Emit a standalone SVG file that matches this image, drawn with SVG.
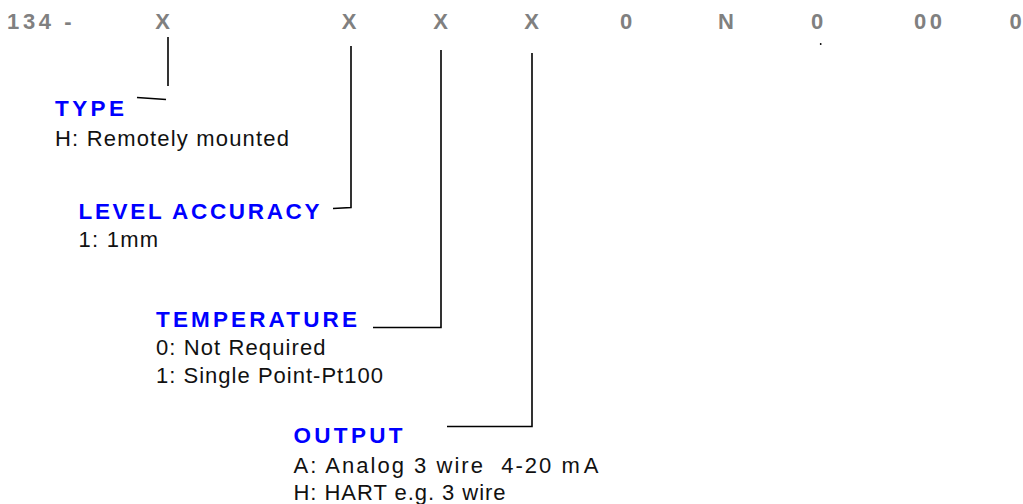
<svg xmlns="http://www.w3.org/2000/svg" width="1023" height="504" viewBox="0 0 1023 504">
<style>
.code{font-family:"Liberation Sans",Arial,sans-serif;font-weight:bold;font-size:22px;fill:#808080}
.head{font-family:"Liberation Sans",Arial,sans-serif;font-weight:bold;font-size:22.5px;fill:#0000ff}
.body{font-family:"Liberation Sans",Arial,sans-serif;font-size:22px;fill:#111111}
.ln{stroke:#000;stroke-width:1.6;fill:none}
</style>
<rect width="1023" height="504" fill="#ffffff"/>
<g id="code-row">
<text class="code" x="7" y="29" textLength="44">134</text>
<text class="code" x="68" y="29" text-anchor="middle">-</text>
<text class="code" x="162.7" y="29" text-anchor="middle">X</text>
<text class="code" x="349" y="29" text-anchor="middle">X</text>
<text class="code" x="440.7" y="29" text-anchor="middle">X</text>
<text class="code" x="531.7" y="29" text-anchor="middle">X</text>
<text class="code" x="626" y="29" text-anchor="middle">0</text>
<text class="code" x="726" y="29" text-anchor="middle">N</text>
<text class="code" x="817" y="29" text-anchor="middle">0</text>
<text class="code" x="928" y="29" text-anchor="middle" textLength="28">00</text>
<text class="code" x="1015.5" y="29" text-anchor="middle">0</text>
<circle cx="820.7" cy="44" r="0.9" fill="#000"/>
</g>
<g id="connectors">
<line class="ln" x1="168" y1="37" x2="168" y2="86"/>
<line class="ln" x1="137" y1="97.5" x2="166" y2="99.5"/>
<polyline class="ln" points="351,46 351,207.5 333,208.5"/>
<polyline class="ln" points="441,50 441,327.5 373,327.5"/>
<polyline class="ln" points="532,53 532,426.5 447,426.5"/>
</g>
<g id="type">
<text class="head" x="55" y="115.5" textLength="69">TYPE</text>
<text class="body" x="55" y="145.5" textLength="234">H: Remotely mounted</text>
</g>
<g id="level-accuracy">
<text class="head" x="78.5" y="219" textLength="241">LEVEL ACCURACY</text>
<text class="body" x="78.5" y="247" textLength="79.5">1: 1mm</text>
</g>
<g id="temperature">
<text class="head" x="156" y="327" textLength="201">TEMPERATURE</text>
<text class="body" x="156" y="355" textLength="169.5">0: Not Required</text>
<text class="body" x="156" y="383" textLength="227">1: Single Point-Pt100</text>
</g>
<g id="output">
<text class="head" x="293.5" y="443" textLength="109">OUTPUT</text>
<text class="body" x="293.5" y="473" textLength="305" xml:space="preserve">A: Analog 3 wire  4-20 m<tspan dx="2">A</tspan></text>
<text class="body" x="293.5" y="500" textLength="212">H: HART e.g. 3 wire</text>
</g>
</svg>
